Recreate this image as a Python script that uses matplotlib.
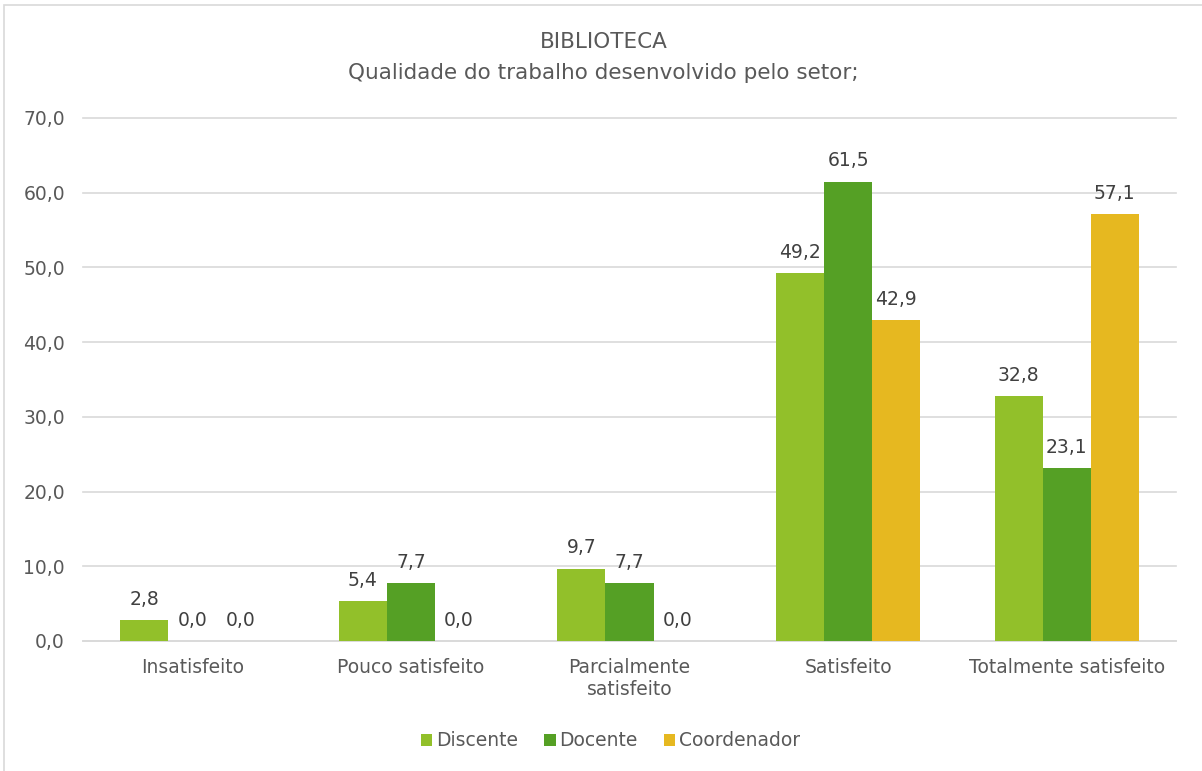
import numpy as np
import matplotlib.pyplot as plt
from matplotlib.patches import Rectangle

categorias = ['Insatisfeito', 'Pouco satisfeito', 'Parcialmente\nsatisfeito',
              'Satisfeito', 'Totalmente satisfeito']
discente = [2.8, 5.4, 9.7, 49.2, 32.8]
docente = [0.0, 7.7, 7.7, 61.5, 23.1]
coordenador = [0.0, 0.0, 0.0, 42.9, 57.1]

series = [('Discente', discente, '#92C02A'),
          ('Docente', docente, '#55A025'),
          ('Coordenador', coordenador, '#E6B820')]

texto = '#595959'

fig = plt.figure(figsize=(12.02, 7.71), dpi=100)
ax = fig.add_axes([83 / 1202, 130 / 771, 1093 / 1202, 523 / 771])

# moldura do grafico
fig.patches.append(Rectangle((4 / 1202, -0.1), 1.2, (771 - 5) / 771 + 0.1,
                             transform=fig.transFigure, fill=False,
                             edgecolor='#D9D9D9', linewidth=1.2))

x = np.arange(len(categorias))
w = 0.22
for i, (nome, vals, cor) in enumerate(series):
    pos = x + (i - 1) * w
    ax.bar(pos, vals, w, color=cor, label=nome, zorder=3)
    for p, v in zip(pos, vals):
        ax.annotate(f'{v:.1f}'.replace('.', ','), (p, v), xytext=(0, 8),
                    textcoords='offset points', ha='center', va='bottom',
                    fontsize=13.5, color='#404040')

ax.set_xlim(-0.5, len(categorias) - 0.5)
ax.set_ylim(0, 70)
ax.set_yticks(np.arange(0, 71, 10))
ax.set_yticklabels([f'{v:.1f}'.replace('.', ',') for v in np.arange(0, 71, 10)])
ax.set_xticks(x)
ax.set_xticklabels(categorias)
ax.tick_params(axis='both', length=0, colors=texto)
ax.tick_params(axis='y', pad=13, labelsize=13.5)
ax.tick_params(axis='x', pad=12, labelsize=13.5)
ax.grid(axis='y', color='#D9D9D9', linewidth=1.2, zorder=0)
for gl in ax.get_ygridlines():
    gl.set_clip_on(False)
for s in ['top', 'right', 'left']:
    ax.spines[s].set_visible(False)
ax.spines['bottom'].set_color('#D9D9D9')
ax.spines['bottom'].set_linewidth(1.2)

fig.text(0.502, 1 - 42 / 771, 'BIBLIOTECA', ha='center', va='center',
         fontsize=15.5, color=texto)
fig.text(0.502, 1 - 73 / 771, 'Qualidade do trabalho desenvolvido pelo setor;',
         ha='center', va='center', fontsize=15.5, color=texto)

leg = fig.legend(loc='center', bbox_to_anchor=(0.508, 1 - 741 / 771), ncol=3,
                 frameon=False, fontsize=13.5, handlelength=0.6, handleheight=0.6,
                 handletextpad=0.2, columnspacing=1.4)
for t in leg.get_texts():
    t.set_color(texto)

fig.savefig('out.png', dpi=100)
